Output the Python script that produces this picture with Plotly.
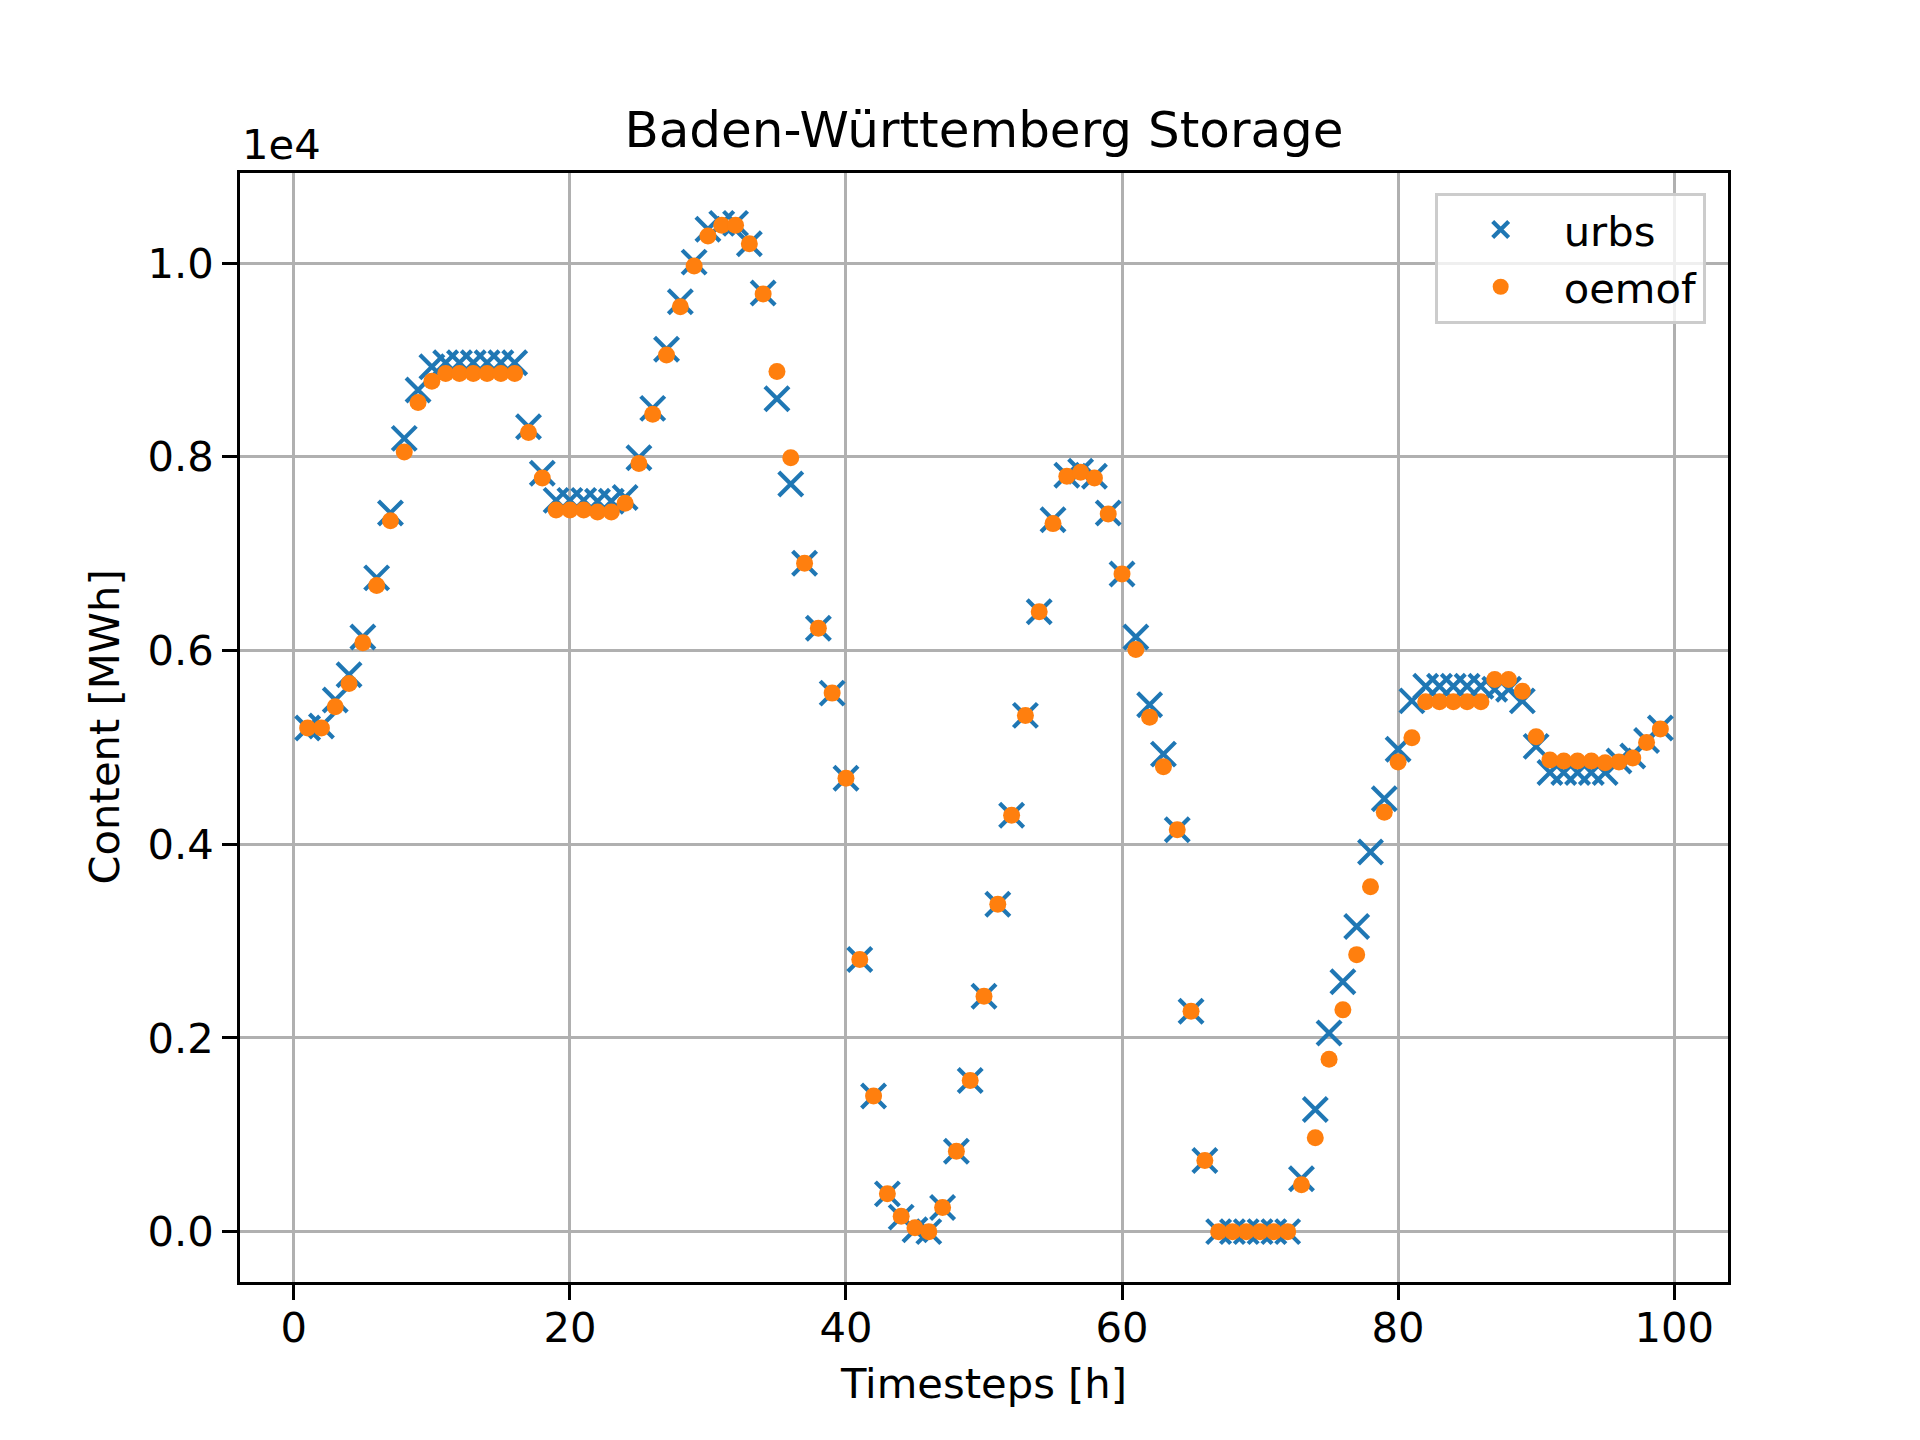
import plotly.graph_objects as go

# timesteps 1..99, storage content in MWh
timesteps = list(range(1, 100))

urbs = [5200, 5220, 5490, 5750, 6140, 6750, 7420, 8190, 8690, 8930,
        8970, 8970, 8970, 8970, 8970, 8970, 8310, 7830, 7550, 7550,
        7550, 7540, 7540, 7580, 7990, 8500, 9110, 9600, 10010, 10350,
        10410, 10410, 10200, 9690, 8600, 7720, 6900, 6230, 5560, 4680,
        2810, 1400, 390, 150, 20, 0, 250, 830, 1560, 2430,
        3380, 4300, 5330, 6400, 7350, 7810, 7850, 7800, 7420, 6790,
        6140, 5440, 4930, 4150, 2275, 735, 0, 0, 0, 0,
        0, 0, 546, 1260, 2050, 2580, 3150, 3920, 4470, 4980,
        5480, 5630, 5630, 5630, 5630, 5630, 5600, 5600, 5480, 5010,
        4740, 4740, 4740, 4740, 4740, 4860, 4910, 5070, 5200]

oemof = [5200, 5200, 5420, 5660, 6080, 6670, 7340, 8050, 8560, 8780,
         8860, 8860, 8860, 8860, 8860, 8860, 8250, 7780, 7450, 7450,
         7450, 7430, 7430, 7520, 7930, 8440, 9050, 9550, 9970, 10280,
         10390, 10390, 10200, 9680, 8880, 7990, 6900, 6230, 5560, 4680,
         2810, 1400, 390, 160, 40, 0, 250, 830, 1560, 2430,
         3380, 4300, 5330, 6400, 7310, 7800, 7840, 7780, 7410, 6790,
         6010, 5310, 4800, 4150, 2275, 735, 0, 0, 0, 0,
         0, 0, 485, 970, 1780, 2290, 2860, 3560, 4330, 4850,
         5100, 5470, 5470, 5470, 5470, 5470, 5700, 5700, 5580, 5110,
         4870, 4860, 4860, 4860, 4840, 4850, 4890, 5050, 5190]

ytick_vals = [0, 2000, 4000, 6000, 8000, 10000]
ytick_text = ["0.0", "0.2", "0.4", "0.6", "0.8", "1.0"]
xtick_vals = [0, 20, 40, 60, 80, 100]

font = "DejaVu Sans"

fig = go.Figure()
fig.add_trace(go.Scatter(
    x=timesteps, y=urbs, name="urbs", mode="markers",
    marker=dict(symbol="x-thin", size=24, color="#1f77b4",
                line=dict(color="#1f77b4", width=4.2))))
fig.add_trace(go.Scatter(
    x=timesteps, y=oemof, name="oemof", mode="markers",
    marker=dict(symbol="circle", size=17, color="#ff7f0e", line=dict(width=0))))

axis_common = dict(
    showgrid=True, gridcolor="#b0b0b0", gridwidth=3.3,
    showline=True, linecolor="black", linewidth=3.3, mirror=True,
    ticks="outside", ticklen=14.6, tickwidth=3.3, tickcolor="black",
    zeroline=False, tickfont=dict(family=font, size=41.7, color="black"),
)

# page has an 8px body margin, so the plot area is nudged up/left by 8px
fig.update_layout(
    width=1920, height=1440,
    margin=dict(l=232, r=200, t=165, b=166),
    paper_bgcolor="white", plot_bgcolor="white",
    title=dict(text="Baden-Württemberg Storage", x=0.5, xref="paper",
               y=1, yref="paper", yanchor="bottom", xanchor="center",
               pad=dict(b=26), font=dict(family=font, size=50, color="black")),
    xaxis=dict(range=[-3.9, 103.9], tickvals=xtick_vals, ticklabelstandoff=-8,
               title=dict(text="Timesteps [h]", standoff=19,
                          font=dict(family=font, size=41.7, color="black")),
               **axis_common),
    yaxis=dict(range=[-520, 10930], tickvals=ytick_vals, ticktext=ytick_text,
               ticklabelstandoff=0, **axis_common),
    legend=dict(x=0.985, y=0.982, xanchor="right", yanchor="top",
                bgcolor="rgba(255,255,255,0.8)", bordercolor="#cccccc",
                borderwidth=3, itemwidth=116,
                font=dict(family=font, size=41.7, color="black")),
    showlegend=True,
)

fig.add_annotation(text="Content [MWh]", xref="paper", yref="paper", x=0, y=0.5,
                   xanchor="center", yanchor="middle", textangle=-90,
                   showarrow=False, xshift=-136,
                   font=dict(family=font, size=41.7, color="black"))
fig.add_annotation(text="1e4", xref="paper", yref="paper", x=0, y=1,
                   xanchor="left", yanchor="bottom", showarrow=False, yshift=2,
                   font=dict(family=font, size=41.7, color="black"))

fig.write_html("out.html")
